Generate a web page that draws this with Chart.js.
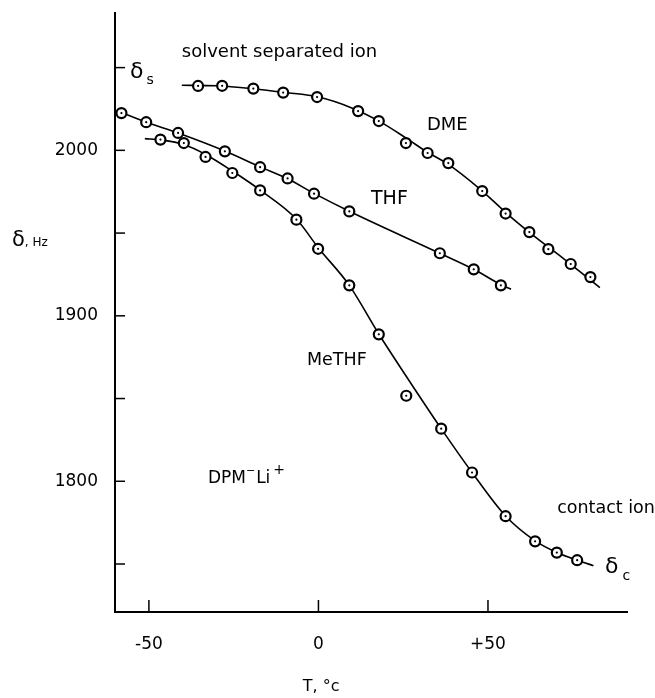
<!DOCTYPE html>
<html><head><meta charset="utf-8">
<script src="https://cdn.jsdelivr.net/npm/chart.js@4.4.0/dist/chart.umd.min.js"></script>
<style>html,body{margin:0;padding:0;background:#fff}</style>
</head><body>
<canvas id="c" width="655" height="698"></canvas>
<script>
// Temperature (°C) and chemical shift (Hz) readings
const dmeT = [-35.5,-28.4,-19.2,-10.4,-0.4,11.7,17.8,25.8,32.2,38.3,48.3,55.2,62.2,67.8,74.4,80.2];
const dmeShift = [2038.9,2039.0,2037.3,2034.9,2032.2,2023.7,2017.7,2004.4,1998.4,1992.3,1975.4,1961.8,1950.6,1940.3,1931.3,1923.4];
const thfT = [-58.1,-50.8,-41.4,-27.6,-17.2,-9.1,-1.3,9.1,35.8,45.8,53.8];
const thfShift = [2022.5,2017.0,2010.5,1999.4,1989.8,1983.0,1973.8,1963.1,1937.8,1928.1,1918.4];
const methfT = [-46.6,-39.7,-33.3,-25.4,-17.2,-6.5,-0.1,9.1,17.8,25.9,36.2,45.3,55.2,63.9,70.3,76.3];
const methfShift = [2006.5,2004.4,1996.0,1986.3,1975.8,1958.1,1940.5,1918.4,1888.8,1851.7,1831.8,1805.3,1778.9,1763.7,1756.9,1752.3];

// Smooth fitted curves
const dmeCurveT = [-40.3,-30,-20,-10,0,10,18,26,32,38,48,56,64,72,83];
const dmeCurveV = [2039.3,2039.0,2037.4,2035.0,2032.2,2025.5,2017.5,2007.2,1999,1992,1976,1961,1947.5,1935,1917];
const thfCurveT = [-59.5,-50.8,-41.4,-27.6,-17.2,-9.1,-1.3,9.1,35.8,45.8,53.8,56.8];
const thfCurveV = [2024,2017,2010.5,1999.6,1990,1982.8,1974,1963.2,1937.8,1928.1,1918.8,1916];
const methfCurveT = [-51.2,-46.6,-39.7,-33.3,-25.4,-17.2,-6.5,0,9.1,17.8,27,36.2,45.3,55.2,63.9,70.3,76.3,81.1];
const methfCurveV = [2007.1,2006.3,2003.5,1997.5,1987.5,1976,1958.5,1941,1918.4,1889,1860,1831.8,1805.3,1779,1764,1757,1752.3,1749];

// Axis ticks
const xTickValues = [-50, 0, 50];
const xTickLabels = ['-50', '0', '+50'];
const yTickValues = [1750, 1800, 1850, 1900, 1950, 2000, 2050];
const yTickLabels = ['', '1800', '', '1900', '', '2000', ''];

// Text annotations (anchored in data coordinates); each part: text, size, dx, dy
const notes = [
  {x:-40.3, y:2059.2, parts:[{t:'solvent separated ion', s:18}]},
  {x:32, y:2015.1, parts:[{t:'DME', s:18}]},
  {x:15.5, y:1970.4, parts:[{t:'THF', s:19}]},
  {x:-3.4, y:1873.1, parts:[{t:'MeTHF', s:17.5}]},
  {x:70.4, y:1783.7, parts:[{t:'contact ion', s:17.5}]},
  {x:-32.6, y:1801.8, parts:[{t:'DPM', s:17},{t:'\u2212', s:11, dy:-7},{t:'Li', s:17, dx:1},{t:'+', s:14, dy:-8, dx:3}]},
  {x:-4.6, y:1675.5, parts:[{t:'T, \u00B0c', s:16}]},
  {x:-55.6, y:2047.1, parts:[{t:'\u03B4', s:22},{t:'s', s:14, dx:3, dy:8}]},
  {x:84.5, y:1748, parts:[{t:'\u03B4', s:22},{t:'c', s:14, dx:4, dy:9}]},
  {x:-90.4, y:1945.6, parts:[{t:'\u03B4', s:21},{t:', Hz', s:12, dy:3}]}
];

const pts = (xs, ys) => xs.map((x, i) => ({x, y: ys[i]}));
const FONT = '"DejaVu Sans", sans-serif';

function curve(xs, ys) {
  return {data: pts(xs, ys), showLine: true, borderColor: '#000', borderWidth: 1.6,
    pointRadius: 0, cubicInterpolationMode: 'monotone', fill: false, order: 3};
}
function circles(xs, ys) {
  return {data: pts(xs, ys), showLine: false, pointRadius: 5, pointBorderWidth: 2.2,
    pointBackgroundColor: '#fff', pointBorderColor: '#000', order: 2};
}
function dots(xs, ys) {
  return {data: pts(xs, ys), showLine: false, pointRadius: 1.1, pointBorderWidth: 0,
    pointBackgroundColor: '#000', pointBorderColor: '#000', order: 1};
}

const tickMarks = {
  id: 'tickMarks',
  afterDraw(chart) {
    const {ctx, scales: {x, y}, chartArea: a} = chart;
    ctx.save();
    ctx.strokeStyle = '#000';
    ctx.lineWidth = 1.5;
    yTickValues.forEach(v => {
      const py = y.getPixelForValue(v);
      ctx.beginPath(); ctx.moveTo(a.left, py); ctx.lineTo(a.left + 10, py); ctx.stroke();
    });
    xTickValues.forEach(v => {
      const px = x.getPixelForValue(v);
      ctx.beginPath(); ctx.moveTo(px, a.bottom); ctx.lineTo(px, a.bottom - 12); ctx.stroke();
    });
    ctx.restore();
  }
};

const textNotes = {
  id: 'textNotes',
  afterDraw(chart) {
    const {ctx, scales: {x, y}} = chart;
    ctx.save();
    ctx.fillStyle = '#000';
    ctx.textBaseline = 'middle';
    ctx.textAlign = 'left';
    notes.forEach(n => {
      let px = x.getPixelForValue(n.x);
      const py = y.getPixelForValue(n.y);
      n.parts.forEach(p => {
        ctx.font = p.s + 'px ' + FONT;
        px += (p.dx || 0);
        ctx.fillText(p.t, px, py + (p.dy || 0));
        px += ctx.measureText(p.t).width;
      });
    });
    ctx.restore();
  }
};

new Chart(document.getElementById('c'), {
  type: 'scatter',
  data: {datasets: [
    curve(dmeCurveT, dmeCurveV), curve(thfCurveT, thfCurveV), curve(methfCurveT, methfCurveV),
    circles(dmeT, dmeShift), circles(thfT, thfShift), circles(methfT, methfShift),
    dots(dmeT, dmeShift), dots(thfT, thfShift), dots(methfT, methfShift)
  ]},
  options: {
    responsive: false, animation: false, devicePixelRatio: 1,
    layout: {padding: {left: 0, right: 28, top: 13, bottom: 0}},
    plugins: {legend: {display: false}, tooltip: {enabled: false}},
    scales: {
      x: {
        type: 'linear', min: -60, max: 91,
        afterBuildTicks: s => { s.ticks = xTickValues.map(v => ({value: v})); },
        afterFit: s => { s.height = 86; },
        grid: {display: true, drawOnChartArea: false, drawTicks: false},
        border: {display: true, color: '#000', width: 2},
        ticks: {padding: 22, color: '#000', font: {family: FONT, size: 17},
          callback: v => xTickLabels[xTickValues.indexOf(v)] ?? ''}
      },
      y: {
        type: 'linear', min: 1721, max: 2083,
        afterBuildTicks: s => { s.ticks = yTickValues.map(v => ({value: v})); },
        afterFit: s => { s.width = 115; s.paddingTop = 0; s.paddingBottom = 0; },
        grid: {display: true, drawOnChartArea: false, drawTicks: false},
        border: {display: true, color: '#000', width: 2},
        ticks: {padding: 17, color: '#000', font: {family: FONT, size: 17},
          callback: v => yTickLabels[yTickValues.indexOf(v)] ?? ''}
      }
    }
  },
  plugins: [tickMarks, textNotes]
});
</script>
</body></html>
